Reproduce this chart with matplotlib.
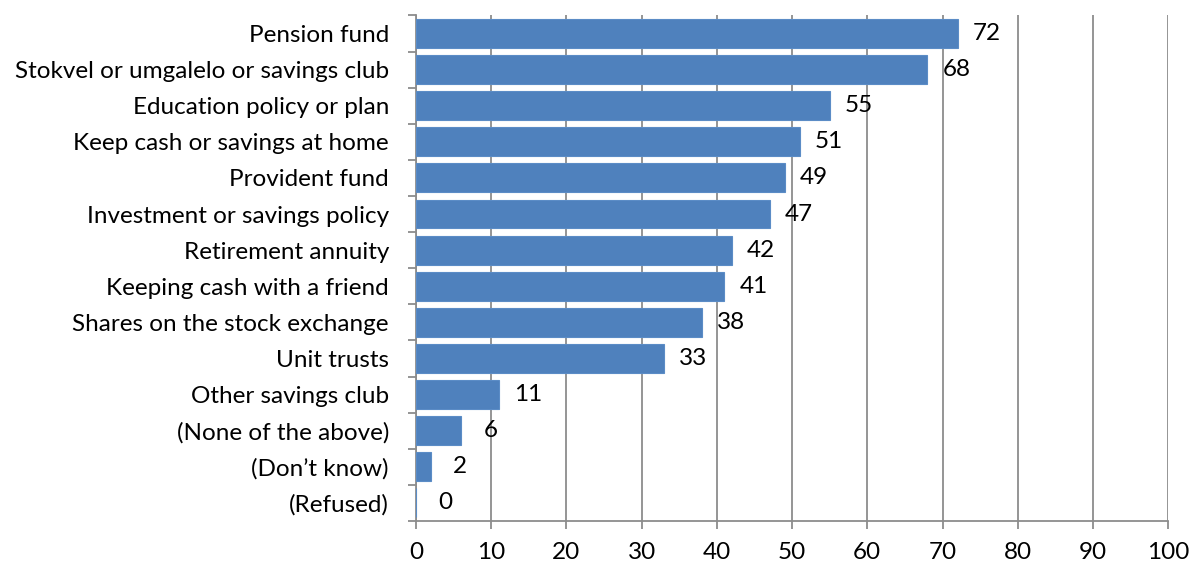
import matplotlib.pyplot as plt
import numpy as np

plt.rcParams['font.family'] = ['Lato', 'DejaVu Sans']

categories = ['Pension fund', 'Stokvel or umgalelo or savings club', 'Education policy or plan',
              'Keep cash or savings at home', 'Provident fund', 'Investment or savings policy',
              'Retirement annuity', 'Keeping cash with a friend', 'Shares on the stock exchange',
              'Unit trusts', 'Other savings club', '(None of the above)', '(Don\u2019t know)', '(Refused)']
values = [72, 68, 55, 51, 49, 47, 42, 41, 38, 33, 11, 6, 2, 0]
xticks = [0, 10, 20, 30, 40, 50, 60, 70, 80, 90, 100]

fig = plt.figure(figsize=(11.92, 5.70), dpi=100)
ax = fig.add_axes([0.349, 0.086, 0.631, 0.887])

y = np.arange(len(categories))
bars = ax.barh(y, values, height=0.8, color='#4F81BD', edgecolor='#5B8CC6', linewidth=0.8, zorder=3)

# value labels just past the end of each bar
for yi, v in zip(y, values):
    ax.annotate(str(v), (v, yi), xytext=(21, 0), textcoords='offset points',
                ha='center', va='center', fontsize=17.5, color='black', zorder=4)

ax.set_ylim(len(categories) - 0.5, -0.5)
ax.set_xlim(0, 100)
ax.set_xticks(xticks)
ax.set_yticks(y)
ax.set_yticklabels(categories)
ax.set_yticks(np.arange(len(categories) + 1) - 0.5, minor=True)

ax.grid(axis='x', color='#8C8C8C', linewidth=1.3, zorder=0)
for s in ['top', 'right']:
    ax.spines[s].set_visible(False)
for s in ['left', 'bottom']:
    ax.spines[s].set_color('#8C8C8C')
    ax.spines[s].set_linewidth(1.3)

ax.tick_params(axis='y', which='major', length=0, pad=19.5, labelsize=17.5)
ax.tick_params(axis='y', which='minor', length=6, width=1.3, color='#8C8C8C')
ax.tick_params(axis='x', length=6, width=1.3, color='#8C8C8C', labelsize=17.5, pad=9)

fig.savefig('out.png', dpi=100)
